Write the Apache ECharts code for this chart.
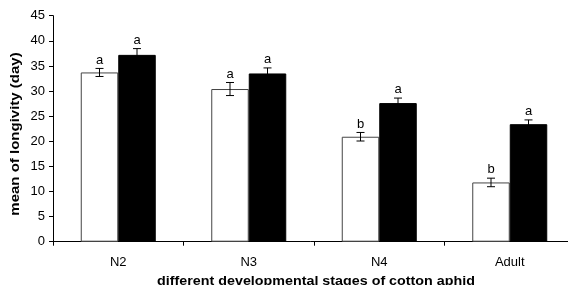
<!DOCTYPE html>
<html>
<head>
<meta charset="utf-8">
<script src="https://cdn.jsdelivr.net/npm/echarts@6/dist/echarts.min.js"></script>
<style>
  html, body { margin: 0; padding: 0; background: #fff; }
  #main { width: 568px; height: 285px; }
</style>
</head>
<body>
<div id="main"></div>
<script>
// stages of cotton aphid
const stages = ['N2', 'N3', 'N4', 'Adult'];
// white bars
const whiteMean = [33.7, 30.4, 20.9, 11.8];
const whiteErr = [0.8, 1.3, 0.85, 0.85];
const whiteSig = ['a', 'a', 'b', 'b'];
// black bars
const blackMean = [37.2, 33.5, 27.6, 23.4];
const blackErr = [1.25, 1.1, 1.0, 0.85];
const blackSig = ['a', 'a', 'a', 'a'];
const yTicks = [0, 45, 5]; // min, max, interval

const barW = 37.5;
const font = 'Liberation Sans, Arial, sans-serif';

function errSeries(means, errs, sigs, side) {
  return {
    type: 'custom',
    z: 10,
    data: means.map((m, i) => [i, m, errs[i]]),
    renderItem: function (params, api) {
      const i = api.value(0);
      const m = api.value(1);
      const e = api.value(2);
      const x = api.coord([i, m])[0] + side * barW / 2;
      const top = api.coord([i, m + e])[1];
      const bot = api.coord([i, m - e])[1];
      const cap = 4;
      const st = { stroke: '#000', lineWidth: 1 };
      return {
        type: 'group',
        children: [
          { type: 'line', shape: { x1: x, y1: top, x2: x, y2: bot }, style: st },
          { type: 'line', shape: { x1: x - cap, y1: top, x2: x + cap, y2: top }, style: st },
          { type: 'line', shape: { x1: x - cap, y1: bot, x2: x + cap, y2: bot }, style: st },
          {
            type: 'text',
            style: {
              text: sigs[i], x: x, y: top - 2,
              align: 'center', verticalAlign: 'bottom',
              font: '13px ' + font, fill: '#000'
            }
          }
        ]
      };
    }
  };
}

const chart = echarts.init(document.getElementById('main'));
const option = {
  animation: false,
  grid: { left: 53, right: -7, top: 15.7, bottom: 43.3, outerBoundsMode: 'none', containLabel: false },
  graphic: [
    {
      type: 'text',
      x: 316, y: 281,
      scaleX: 1.1,
      style: {
        text: 'different developmental stages of cotton aphid',
        align: 'center', verticalAlign: 'middle',
        font: 'bold 13px ' + font, fill: '#000'
      }
    },
    {
      type: 'text',
      x: 16, y: 134,
      rotation: Math.PI / 2,
      scaleX: 1.25,
      style: {
        text: 'mean of longivity (day)',
        align: 'center', verticalAlign: 'middle',
        font: 'bold 12px ' + font, fill: '#000'
      }
    }
  ],
  xAxis: {
    type: 'category',
    data: stages,
    axisLine: { lineStyle: { color: '#000', width: 1 } },
    axisTick: { show: true, length: 4, lineStyle: { color: '#000' } },
    axisLabel: { color: '#000', fontSize: 13, fontFamily: font, margin: 14 }
  },
  yAxis: {
    type: 'value',
    min: yTicks[0],
    max: yTicks[1],
    interval: yTicks[2],
    splitLine: { show: false },
    axisLine: { show: true, lineStyle: { color: '#000', width: 1 } },
    axisTick: { show: true, length: 4, lineStyle: { color: '#000' } },
    axisLabel: { color: '#000', fontSize: 13, fontFamily: font, margin: 8 }
  },
  series: [
    {
      type: 'bar',
      data: whiteMean,
      barWidth: barW,
      barGap: '0%',
      itemStyle: { color: '#fff', borderColor: '#444', borderWidth: 1 }
    },
    {
      type: 'bar',
      data: blackMean,
      barWidth: barW,
      barGap: '0%',
      itemStyle: { color: '#000', borderColor: '#000', borderWidth: 1 }
    },
    errSeries(whiteMean, whiteErr, whiteSig, -1),
    errSeries(blackMean, blackErr, blackSig, 1)
  ]
};
chart.setOption(option);
</script>
</body>
</html>
